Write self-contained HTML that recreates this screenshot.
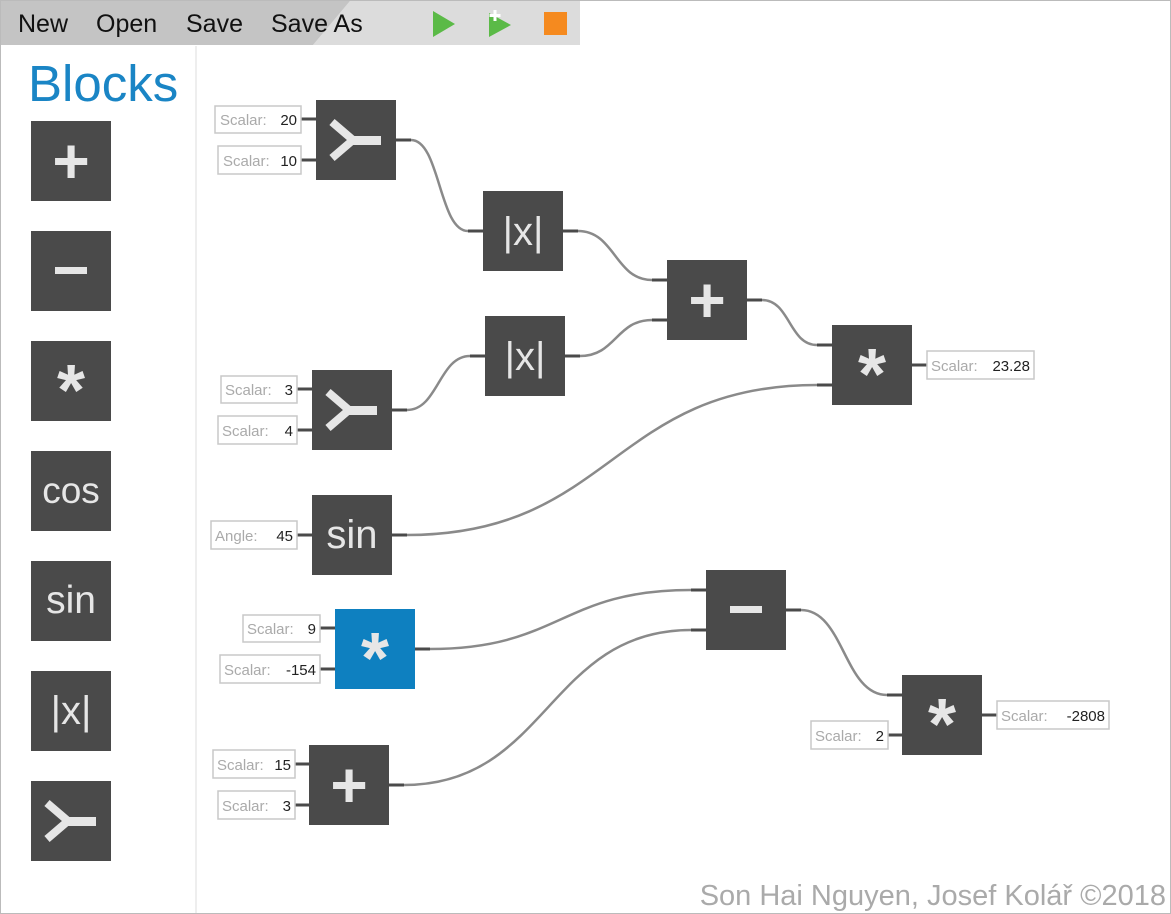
<!DOCTYPE html>
<html><head><meta charset="utf-8"><style>
html,body{margin:0;padding:0;background:#fff;}
svg{display:block;font-family:"Liberation Sans",sans-serif;}
.m{font-size:25px;fill:#111;}
.b{fill:#4a4a4a;}
.s{fill:#e6e6e6;text-anchor:middle;}
.p{fill:#e6e6e6;text-anchor:middle;font-weight:bold;font-size:64px;}
.a{fill:#e6e6e6;text-anchor:middle;font-weight:bold;font-size:72px;}
.lb{fill:#fff;stroke:#c8c8c8;stroke-width:1.5;}
.lt{font-size:15px;fill:#aaa;}
.lv{font-size:15px;fill:#222;}
.st{stroke:#4a4a4a;stroke-width:3;fill:none;}
.cv{stroke:#8a8a8a;stroke-width:2.5;fill:none;}
</style></head><body>
<svg width="1171" height="914" viewBox="0 0 1171 914">
<rect x="0.5" y="0.5" width="1170" height="913" fill="#fff" stroke="#bbb"/>
<polygon points="350,1 580,1 580,45 313,45" fill="#dcdcdc"/>
<polygon points="1,1 350,1 313,45 1,45" fill="#c4c4c4"/>
<text class="m" x="18" y="32">New</text>
<text class="m" x="96" y="32">Open</text>
<text class="m" x="186" y="32">Save</text>
<text class="m" x="271" y="32">Save As</text>
<polygon points="433,11 455,24 433,37" fill="#5bba47"/>
<polygon points="489,13 511,25 489,37" fill="#5bba47"/>
<path d="M495 10v11M489.5 15.5h11" stroke="#fff" stroke-width="3"/>
<rect x="544" y="12" width="23" height="23" fill="#f58a1f"/>
<line x1="196" y1="46" x2="196" y2="913" stroke="#eee" stroke-width="2"/>
<text x="28" y="101" font-size="51" fill="#1a85c5">Blocks</text>
<rect class="b" x="31" y="121" width="80" height="80"/><text class="p" x="71" y="183">+</text>
<rect class="b" x="31" y="231" width="80" height="80"/><rect x="55" y="267" width="32" height="7" fill="#e6e6e6"/>
<rect class="b" x="31" y="341" width="80" height="80"/><text class="a" x="71" y="415">*</text>
<rect class="b" x="31" y="451" width="80" height="80"/><text class="s" x="71" y="503" font-size="37">cos</text>
<rect class="b" x="31" y="561" width="80" height="80"/><text class="s" x="71" y="613" font-size="39">sin</text>
<rect class="b" x="31" y="671" width="80" height="80"/><text class="s" x="71" y="724" font-size="40">|x|</text>
<rect class="b" x="31" y="781" width="80" height="80"/>
<g transform="translate(31,781)"><path d="M16 22L37 40M16 58L37 40" stroke="#e6e6e6" stroke-width="8"/><rect x="35" y="36" width="30" height="9" fill="#e6e6e6"/></g>

<path class="st" d="M396 140h15M468 231h15M563 231h15M652 280h15M392 410h15M470 356h15M565 356h15M652 320h15M747 300h15M817 345h15M392 535h15M817 385h15M415 649h15M691 590h15M389 785h15M691 630h15M786 610h15M887 695h15"/>
<path class="cv" d="M411 140C440 140 439 231 468 231"/>
<path class="cv" d="M578 231C615 231 615 280 652 280"/>
<path class="cv" d="M407 410C438 410 439 356 470 356"/>
<path class="cv" d="M580 356C616 356 616 320 652 320"/>
<path class="cv" d="M762 300C790 300 789 345 817 345"/>
<path class="cv" d="M407 535C612 535 612 385 817 385"/>
<path class="cv" d="M430 649C560 649 561 590 691 590"/>
<path class="cv" d="M404 785C548 785 548 630 691 630"/>
<path class="cv" d="M801 610C844 610 844 695 887 695"/>
<path class="st" d="M301 119h15M301 160h15M297 389h15M297 430h15M297 535h15M320 628h15M320 669h15M295 764h15M295 805h15M888 735h14M912 365h15M982 715h15"/>

<rect class="b" x="316" y="100" width="80" height="80"/>
<g transform="translate(316,100)"><path d="M16 22L37 40M16 58L37 40" stroke="#e6e6e6" stroke-width="8"/><rect x="35" y="36" width="30" height="9" fill="#e6e6e6"/></g>
<rect class="b" x="483" y="191" width="80" height="80"/><text class="s" x="523" y="245" font-size="40">|x|</text>
<rect class="b" x="485" y="316" width="80" height="80"/><text class="s" x="525" y="370" font-size="40">|x|</text>
<rect class="b" x="667" y="260" width="80" height="80"/><text class="p" x="707" y="322">+</text>
<rect class="b" x="832" y="325" width="80" height="80"/><text class="a" x="872" y="399">*</text>
<rect class="b" x="312" y="370" width="80" height="80"/>
<g transform="translate(312,370)"><path d="M16 22L37 40M16 58L37 40" stroke="#e6e6e6" stroke-width="8"/><rect x="35" y="36" width="30" height="9" fill="#e6e6e6"/></g>
<rect class="b" x="312" y="495" width="80" height="80"/><text class="s" x="352" y="548" font-size="40">sin</text>
<rect x="335" y="609" width="80" height="80" fill="#0e80c0"/><text class="a" x="375" y="683">*</text>
<rect class="b" x="706" y="570" width="80" height="80"/><rect x="730" y="606" width="32" height="7" fill="#e6e6e6"/>
<rect class="b" x="902" y="675" width="80" height="80"/><text class="a" x="942" y="749">*</text>
<rect class="b" x="309" y="745" width="80" height="80"/><text class="p" x="349" y="807">+</text>

<rect class="lb" x="215" y="106" width="86" height="27"/><text class="lt" x="220" y="125">Scalar:</text><text class="lv" x="297" y="125" text-anchor="end">20</text>
<rect class="lb" x="218" y="146" width="83" height="28"/><text class="lt" x="223" y="166">Scalar:</text><text class="lv" x="297" y="166" text-anchor="end">10</text>
<rect class="lb" x="221" y="376" width="76" height="27"/><text class="lt" x="225" y="395">Scalar:</text><text class="lv" x="293" y="395" text-anchor="end">3</text>
<rect class="lb" x="218" y="416" width="79" height="28"/><text class="lt" x="222" y="436">Scalar:</text><text class="lv" x="293" y="436" text-anchor="end">4</text>
<rect class="lb" x="211" y="521" width="86" height="28"/><text class="lt" x="215" y="541">Angle:</text><text class="lv" x="293" y="541" text-anchor="end">45</text>
<rect class="lb" x="243" y="615" width="77" height="27"/><text class="lt" x="247" y="634">Scalar:</text><text class="lv" x="316" y="634" text-anchor="end">9</text>
<rect class="lb" x="220" y="655" width="100" height="28"/><text class="lt" x="224" y="675">Scalar:</text><text class="lv" x="316" y="675" text-anchor="end">-154</text>
<rect class="lb" x="213" y="750" width="82" height="28"/><text class="lt" x="217" y="770">Scalar:</text><text class="lv" x="291" y="770" text-anchor="end">15</text>
<rect class="lb" x="218" y="791" width="77" height="28"/><text class="lt" x="222" y="811">Scalar:</text><text class="lv" x="291" y="811" text-anchor="end">3</text>
<rect class="lb" x="927" y="351" width="107" height="28"/><text class="lt" x="931" y="371">Scalar:</text><text class="lv" x="1030" y="371" text-anchor="end">23.28</text>
<rect class="lb" x="811" y="721" width="77" height="28"/><text class="lt" x="815" y="741">Scalar:</text><text class="lv" x="884" y="741" text-anchor="end">2</text>
<rect class="lb" x="997" y="701" width="112" height="28"/><text class="lt" x="1001" y="721">Scalar:</text><text class="lv" x="1105" y="721" text-anchor="end">-2808</text>

<text x="1166" y="905" font-size="29" fill="#aaa" text-anchor="end">Son Hai Nguyen, Josef Kolář ©2018</text>
</svg>
</body></html>
